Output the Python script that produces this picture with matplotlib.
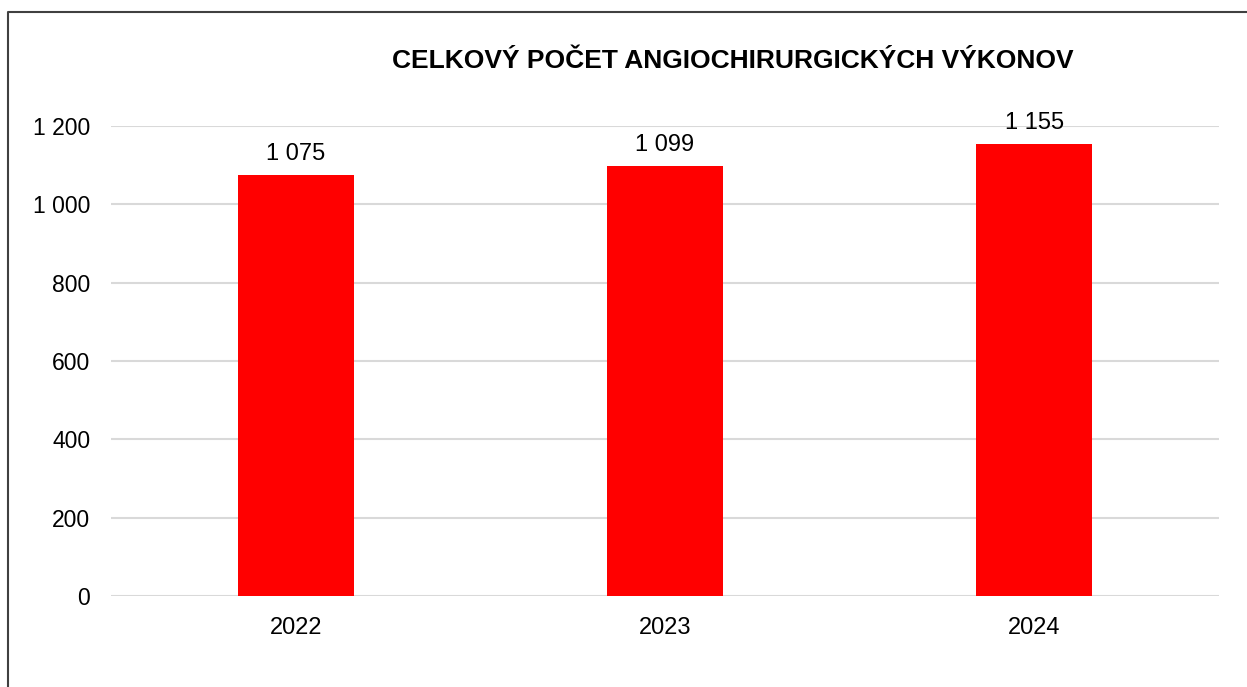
import matplotlib.pyplot as plt
from matplotlib.lines import Line2D

years = ["2022", "2023", "2024"]
counts = [1075, 1099, 1155]
yticks = [0, 200, 400, 600, 800, 1000, 1200]

plt.rcParams['font.family'] = ['Liberation Sans', 'DejaVu Sans']


def fmt(v):
    return f"{v:,}".replace(",", " ")


fig = plt.figure(figsize=(12.47, 6.87), dpi=100)
ax = fig.add_axes([111 / 1247, 1 - 596 / 687, (1219 - 111) / 1247, (596 - 126) / 687])

x = range(len(years))
bars = ax.bar(x, counts, width=0.314, color="#ff0000", zorder=3)
for b, v in zip(bars, counts):
    ax.annotate(fmt(v), (b.get_x() + b.get_width() / 2, v), xytext=(0, 7),
                textcoords="offset points", ha="center", va="bottom", fontsize=17)

ax.set_xlim(-0.5, 2.5)
ax.set_ylim(0, 1200)
ax.set_xticks(list(x))
ax.set_xticklabels(years, fontsize=17)
ax.set_yticks(yticks)
ax.set_yticklabels([fmt(t) for t in yticks], fontsize=16.5)
ax.tick_params(length=0)
ax.tick_params(axis="y", pad=15)
ax.tick_params(axis="x", pad=15)
ax.grid(axis="y", color="#d9d9d9", linewidth=1.5, zorder=0)
ax.set_axisbelow(True)
for s in ax.spines.values():
    s.set_visible(False)

fig.text(733 / 1247, 1 - 61 / 687, "CELKOVÝ POČET ANGIOCHIRURGICKÝCH VÝKONOV",
         ha="center", va="center", fontsize=19, fontweight="bold")

# frame around the chart area (right and bottom edges are cut off)
fig.add_artist(Line2D([7.5 / 1247, 7.5 / 1247, 1.0], [0.0, 1 - 12 / 687, 1 - 12 / 687],
                      transform=fig.transFigure, color="#404040", linewidth=1.5))

fig.savefig("out.png", dpi=100)
